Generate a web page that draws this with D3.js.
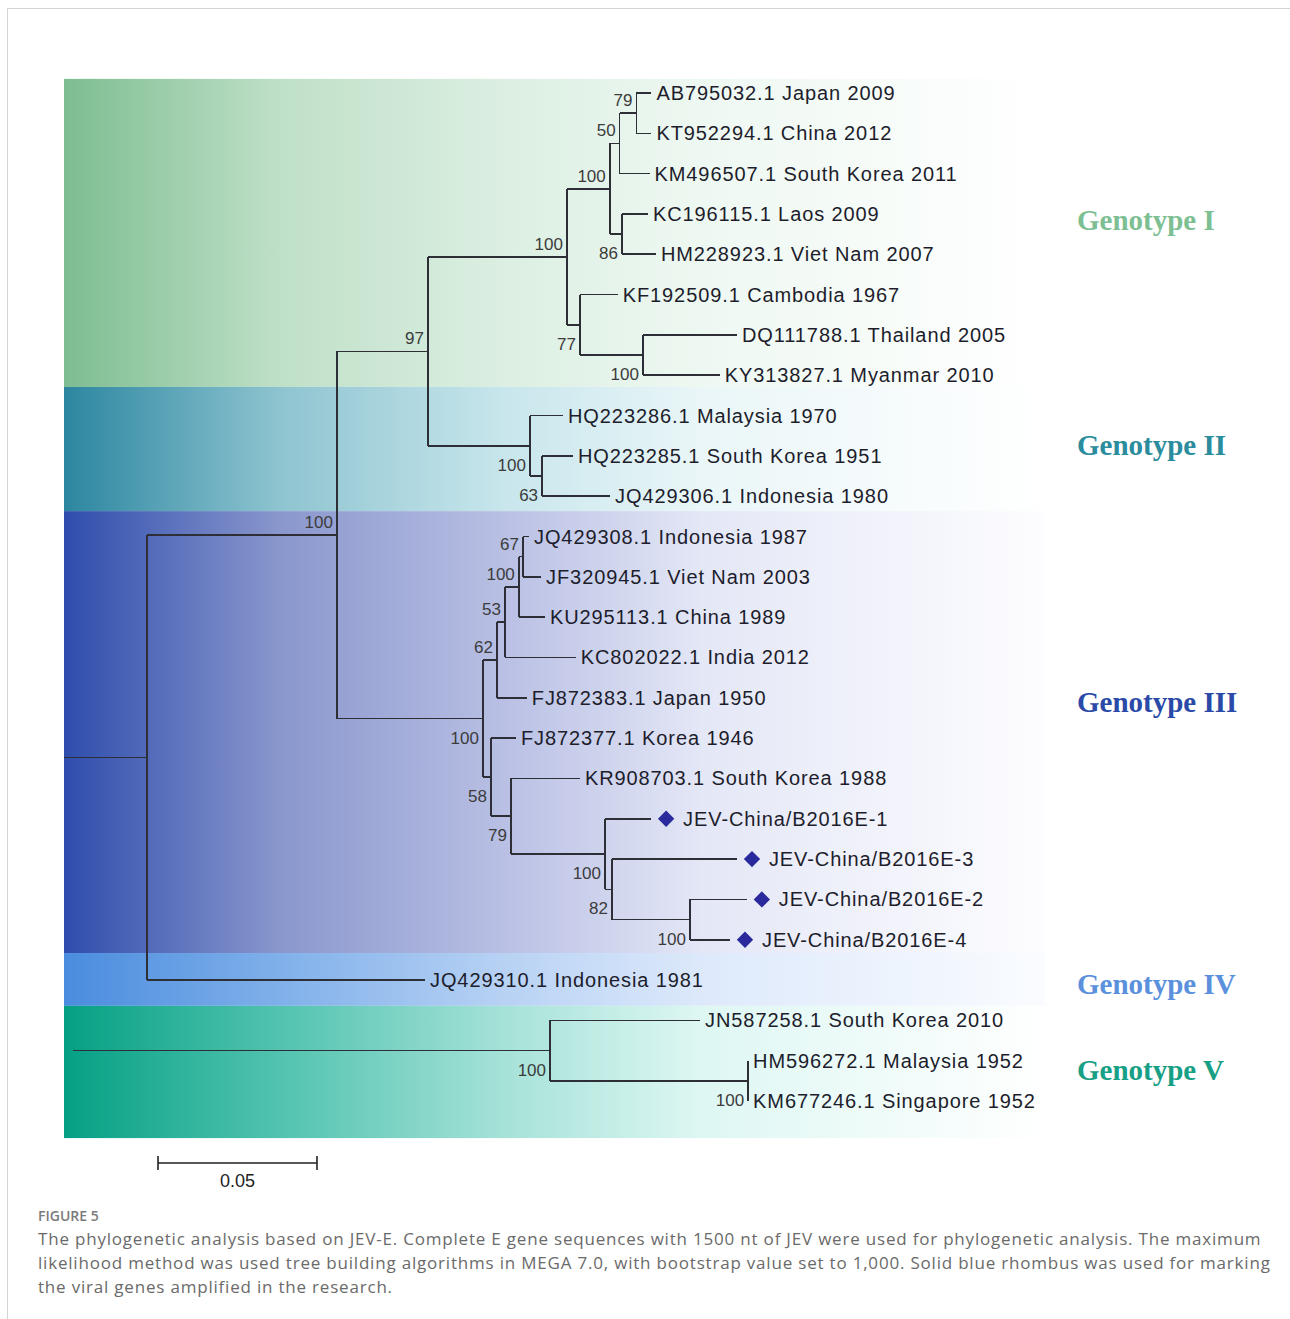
<!DOCTYPE html>
<html>
<head>
<meta charset="utf-8">
<script src="https://cdn.jsdelivr.net/npm/d3@7"></script>
<style>
  body { margin: 0; background: #fff; }
  svg { display: block; }
</style>
</head>
<body>
<div id="fig"></div>
<script>
// leaf labels, top to bottom
const taxa = [
  'AB795032.1 Japan 2009',
  'KT952294.1 China 2012',
  'KM496507.1 South Korea 2011',
  'KC196115.1 Laos 2009',
  'HM228923.1 Viet Nam 2007',
  'KF192509.1 Cambodia 1967',
  'DQ111788.1 Thailand 2005',
  'KY313827.1 Myanmar 2010',
  'HQ223286.1 Malaysia 1970',
  'HQ223285.1 South Korea 1951',
  'JQ429306.1 Indonesia 1980',
  'JQ429308.1 Indonesia 1987',
  'JF320945.1 Viet Nam 2003',
  'KU295113.1 China 1989',
  'KC802022.1 India 2012',
  'FJ872383.1 Japan 1950',
  'FJ872377.1 Korea 1946',
  'KR908703.1 South Korea 1988',
  'JEV-China/B2016E-1',
  'JEV-China/B2016E-3',
  'JEV-China/B2016E-2',
  'JEV-China/B2016E-4',
  'JQ429310.1 Indonesia 1981',
  'JN587258.1 South Korea 2010',
  'HM596272.1 Malaysia 1952',
  'KM677246.1 Singapore 1952',
];

// sequences amplified in this study (solid rhombus)
const marked = ['JEV-China/B2016E-1', 'JEV-China/B2016E-3', 'JEV-China/B2016E-2', 'JEV-China/B2016E-4'];

// [node, parent, branch length]; children listed top to bottom
const edges = [
  ['root', '', 0],
  ['A', 'root', 0.0233],
  ['B', 'A', 0.0597],
  ['C', 'B', 0.0286],
  ['D', 'C', 0.0437],
  ['E', 'D', 0.0135],
  ['F', 'E', 0.0031],
  ['G', 'F', 0.0053],
  [taxa[0], 'G', 0.0047],
  [taxa[1], 'G', 0.0047],
  [taxa[2], 'F', 0.0094],
  ['H', 'E', 0.0038],
  [taxa[3], 'H', 0.0082],
  [taxa[4], 'H', 0.0107],
  ['I', 'D', 0.0041],
  [taxa[5], 'I', 0.0119],
  ['J', 'I', 0.0198],
  [taxa[6], 'J', 0.0296],
  [taxa[7], 'J', 0.0242],
  ['K', 'C', 0.0321],
  [taxa[8], 'K', 0.0104],
  ['L', 'K', 0.0038],
  [taxa[9], 'L', 0.0097],
  [taxa[10], 'L', 0.0214],
  ['M', 'B', 0.0459],
  ['N', 'M', 0.0044],
  ['O', 'N', 0.0025],
  ['P', 'O', 0.0044],
  ['Q', 'P', 0.0013],
  [taxa[11], 'Q', 0.0019],
  [taxa[12], 'Q', 0.0057],
  [taxa[13], 'P', 0.0082],
  [taxa[14], 'O', 0.0223],
  [taxa[15], 'N', 0.0094],
  ['R', 'M', 0.0025],
  [taxa[16], 'R', 0.0079],
  ['S', 'R', 0.0063],
  [taxa[17], 'S', 0.0217],
  ['T', 'S', 0.0296],
  [taxa[18], 'T', 0.0145],
  ['U', 'T', 0.0022],
  [taxa[19], 'U', 0.0393],
  ['V', 'U', 0.0245],
  [taxa[20], 'V', 0.0179],
  [taxa[21], 'V', 0.0126],
  [taxa[22], 'A', 0.0874],
  ['W', 'root', 0.1500],
  [taxa[23], 'W', 0.0472],
  ['X', 'W', 0.0623],
  [taxa[24], 'X', 0],
  [taxa[25], 'X', 0],
];

// bootstrap support (1000 replicates, %)
const support = [
  ['B', 100], ['C', 97], ['D', 100], ['E', 100], ['F', 50], ['G', 79], ['H', 86],
  ['I', 77], ['J', 100], ['K', 100], ['L', 63], ['M', 100], ['N', 62], ['O', 53],
  ['P', 100], ['Q', 67], ['R', 58], ['S', 79], ['T', 100], ['U', 82], ['V', 100],
  ['W', 100], ['X', 100],
];

const genotypes = ['Genotype I', 'Genotype II', 'Genotype III', 'Genotype IV', 'Genotype V'];
const scaleBarValue = 0.05;

const captionTitle = 'FIGURE 5';
const captionLines = [
  'The phylogenetic analysis based on JEV-E. Complete E gene sequences with 1500 nt of JEV were used for phylogenetic analysis. The maximum',
  'likelihood method was used tree building algorithms in MEGA 7.0, with bootstrap value set to 1,000. Solid blue rhombus was used for marking',
  'the viral genes amplified in the research.',
];

// ---- layout ----
const W = 1290, H = 1319;
const PX_PER_SCALE = 159;
const ROOT_X = 73;
const BAND_X0 = 64, BAND_X1 = 1045;
// band edges / genotype label rows, in leaf-row units
const bandEdgeRows = [-0.35, 7.29, 10.37, 21.33, 22.64, 25.92];
const labelRows = [3.15, 8.72, 15.1, 22.1, 24.23];
const bandStops = [
  ['#7dbd90', '#bfe0c8', '#dcefe2', '#eef8f2', '#ffffff'],
  ['#2c86a0', '#8ec4d0', '#c8e6ec', '#eaf6f8', '#ffffff'],
  ['#2e4dac', '#8a97cd', '#b9c0e4', '#e4e7f6', '#fdfdff'],
  ['#4a8cde', '#80b0ea', '#b8d2f4', '#dde9fb', '#fafcff'],
  ['#05a084', '#52c3b0', '#a6e2d8', '#def7f3', '#ffffff'],
];
const stopOffsets = [0, 0.22, 0.45, 0.65, 1];
const labelColors = ['#7dbf93', '#2a8c9c', '#2b4aa8', '#5a90dc', '#17a085'];

const svg = d3.select('#fig').append('svg')
  .attr('width', W)
  .attr('height', H)
  .attr('viewBox', [0, 0, W, H]);

// page frame
svg.append('path')
  .attr('d', `M7.5,${H} V8.5 H${W}`)
  .attr('fill', 'none')
  .attr('stroke', '#d4d4d4')
  .attr('stroke-width', 1);

const xScale = d3.scaleLinear()
  .domain([0, scaleBarValue])
  .range([ROOT_X, ROOT_X + PX_PER_SCALE]);

const yScale = d3.scaleLinear()
  .domain([0, taxa.length - 1])
  .range([93, 1101]);

// gradient bands
const defs = svg.append('defs');
bandStops.forEach((stops, i) => {
  const grad = defs.append('linearGradient')
    .attr('id', `band${i}`)
    .attr('x1', 0).attr('x2', 1).attr('y1', 0).attr('y2', 0);
  stops.forEach((c, j) => grad.append('stop')
    .attr('offset', stopOffsets[j])
    .attr('stop-color', c));
});

svg.append('g')
  .selectAll('rect')
  .data(genotypes)
  .join('rect')
    .attr('x', BAND_X0)
    .attr('width', BAND_X1 - BAND_X0)
    .attr('y', (_, i) => yScale(bandEdgeRows[i]))
    .attr('height', (_, i) => yScale(bandEdgeRows[i + 1]) - yScale(bandEdgeRows[i]))
    .attr('fill', (_, i) => `url(#band${i})`);

// tree
const root = d3.stratify()
  .id(d => d[0])
  .parentId(d => d[1] || null)(edges);

root.eachBefore(node => {
  node.dist = node.parent ? node.parent.dist + node.data[2] : 0;
  node.x = xScale(node.dist);
});
root.eachAfter(node => {
  if (node.children) {
    const kids = node.children;
    node.y = (kids[0].y + kids[kids.length - 1].y) / 2;
  } else {
    node.y = yScale(taxa.indexOf(node.id));
  }
});

const tree = svg.append('g')
  .attr('fill', 'none')
  .attr('stroke', '#2e2e36')
  .attr('stroke-width', 1.6)
  .attr('shape-rendering', 'crispEdges');

tree.selectAll('path.h')
  .data(root.descendants().filter(d => d.parent))
  .join('path')
    .attr('class', 'h')
    .attr('d', d => `M${d.parent.x},${d.y}H${d.x}`);

tree.selectAll('path.v')
  .data(root.descendants().filter(d => d.children && d.parent))
  .join('path')
    .attr('class', 'v')
    .attr('d', d => `M${d.x},${d.children[0].y}V${d.children[d.children.length - 1].y}`);

// root stub on the left
tree.append('path')
  .attr('d', `M${BAND_X0},${root.children[0].y}H${root.x}`);

// bootstrap values
const supportMap = new Map(support);
svg.append('g')
  .attr('font-family', '"Liberation Sans", Arial, sans-serif')
  .attr('font-size', 17)
  .attr('fill', '#3c3c3c')
  .attr('text-anchor', 'end')
  .selectAll('text')
  .data(root.descendants().filter(d => supportMap.has(d.id)))
  .join('text')
    .attr('x', d => d.x - 4)
    .attr('y', d => d.parent.children[0] === d ? d.y - 7 : d.y + 25)
    .text(d => supportMap.get(d.id));

// leaves
const leaves = root.leaves();
const leafG = svg.append('g')
  .attr('font-family', '"Liberation Sans", Arial, sans-serif')
  .attr('font-size', 20)
  .attr('letter-spacing', 0.9)
  .attr('fill', '#1d1d2c');

leafG.selectAll('text')
  .data(leaves)
  .join('text')
    .attr('x', d => d.x + (marked.includes(d.id) ? 32 : 5))
    .attr('y', d => d.y)
    .attr('dy', '0.35em')
    .text(d => d.id);

leafG.selectAll('path')
  .data(leaves.filter(d => marked.includes(d.id)))
  .join('path')
    .attr('transform', d => `translate(${d.x + 15},${d.y})`)
    .attr('d', d3.symbol(d3.symbolDiamond2, 170))
    .attr('fill', '#2a2a9c');

// genotype labels
svg.append('g')
  .attr('font-family', '"Liberation Serif", "Times New Roman", serif')
  .attr('font-weight', 'bold')
  .attr('font-size', 29)
  .selectAll('text')
  .data(genotypes)
  .join('text')
    .attr('x', 1077)
    .attr('y', (_, i) => yScale(labelRows[i]))
    .attr('dy', '0.35em')
    .attr('fill', (_, i) => labelColors[i])
    .text(d => d);

// scale bar
const bar = svg.append('g')
  .attr('transform', `translate(${158 - xScale(0)},1163)`);
bar.append('path')
  .attr('d', `M${xScale(0)},0H${xScale(scaleBarValue)}M${xScale(0)},-7V7M${xScale(scaleBarValue)},-7V7`)
  .attr('fill', 'none')
  .attr('stroke', '#222')
  .attr('stroke-width', 1.6);
bar.append('text')
  .attr('x', (xScale(0) + xScale(scaleBarValue)) / 2)
  .attr('y', 24)
  .attr('text-anchor', 'middle')
  .attr('font-family', '"Liberation Sans", Arial, sans-serif')
  .attr('font-size', 18)
  .attr('fill', '#222')
  .text(d3.format('.2f')(scaleBarValue));

// caption
const cap = svg.append('g')
  .attr('font-family', '"Open Sans", "Noto Sans", sans-serif')
  .attr('fill', '#6a6a6a');
cap.append('text')
  .attr('x', 38)
  .attr('y', 1221)
  .attr('font-size', 14)
  .attr('font-weight', 600)
  .attr('fill', '#7a7a7a')
  .text(captionTitle);
cap.selectAll('text.line')
  .data(captionLines)
  .join('text')
    .attr('class', 'line')
    .attr('x', 38)
    .attr('y', (_, i) => 1245 + i * 24)
    .attr('font-size', 17)
    .attr('letter-spacing', 0.8)
    .text(d => d);
</script>
</body>
</html>
